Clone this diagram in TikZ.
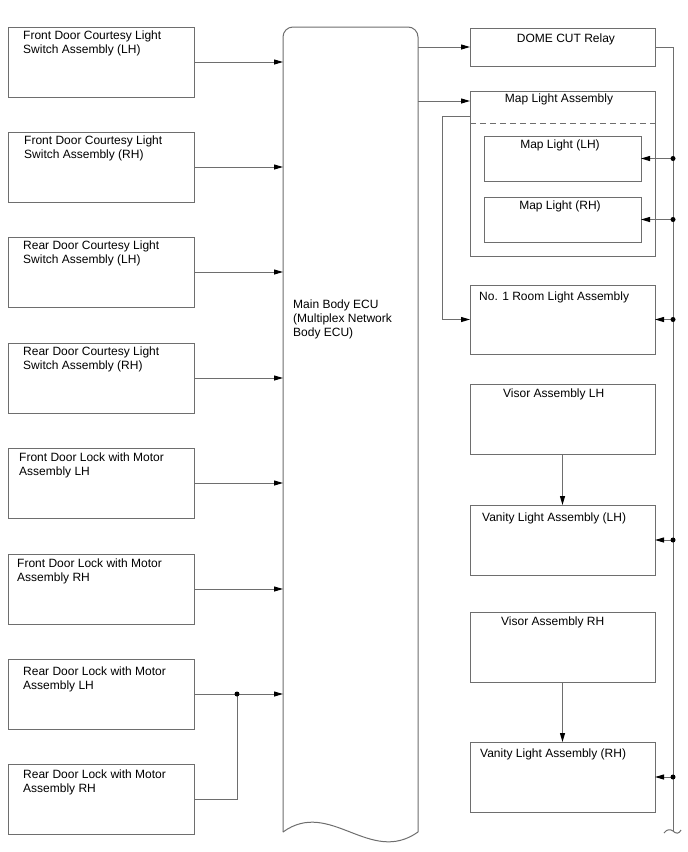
\documentclass[tikz,border=0pt]{standalone}
\usepackage{fontspec}
\setmainfont{Liberation Sans}
\usetikzlibrary{arrows.meta}
\definecolor{lgray}{RGB}{110,110,110}
\tikzset{
  box/.style={draw=lgray, line width=1pt, rectangle, inner sep=0pt, outer sep=0pt, anchor=north west},
  lbl/.style={inner sep=0pt, font=\fontsize{12}{14}\selectfont, align=left, text=black},
  conn/.style={draw=lgray, line width=1pt, -{Triangle[length=9pt,width=5pt,color=black]}},
  wire/.style={draw=lgray, line width=1pt},
  dot/.style={circle, fill=black, inner sep=0pt, minimum size=5pt},
}
\begin{document}
\begin{tikzpicture}[x=1pt,y=-1pt]
\useasboundingbox (0,0) rectangle (688,852);
\fill[white] (0,0) rectangle (688,852);

% ---- left boxes
\node[box, minimum width=186, minimum height=70] (b1) at (8,27) {};
\node[box, minimum width=186, minimum height=70] (b2) at (8,132) {};
\node[box, minimum width=186, minimum height=70] (b3) at (8,237) {};
\node[box, minimum width=186, minimum height=70] (b4) at (8,343) {};
\node[box, minimum width=186, minimum height=70] (b5) at (8,448) {};
\node[box, minimum width=186, minimum height=70] (b6) at (8,554) {};
\node[box, minimum width=186, minimum height=70] (b7) at (8,659) {};
\node[box, minimum width=186, minimum height=70] (b8) at (8,764) {};

% (base anchor = baseline of the last line)
\node[lbl, anchor=base west] (t1) at (23,53.5) {Front Door Courtesy Light\\Switch Assembly (LH)};
\node[lbl, anchor=base west] (t2) at (24,158.5) {Front Door Courtesy Light\\Switch Assembly (RH)};
\node[lbl, anchor=base west] (t3) at (23,263.5) {Rear Door Courtesy Light\\Switch Assembly (LH)};
\node[lbl, anchor=base west] (t4) at (23,369.5) {Rear Door Courtesy Light\\Switch Assembly (RH)};
\node[lbl, anchor=base west] (t5) at (19,475) {Front Door Lock with Motor\\Assembly LH};
\node[lbl, anchor=base west] (t6) at (17,581) {Front Door Lock with Motor\\Assembly RH};
\node[lbl, anchor=base west] (t7) at (23,689) {Rear Door Lock with Motor\\Assembly LH};
\node[lbl, anchor=base west] (t8) at (23,792) {Rear Door Lock with Motor\\Assembly RH};

% ---- ECU
\node[inner sep=0pt, outer sep=0pt, minimum width=135, minimum height=818, anchor=north west] (ecu) at (283,27) {};
\draw[wire, rounded corners=10pt] (283,832) -- (283,27) -- (418,27) -- (418,832);
\draw[wire] (283,832) .. controls (330,798) and (370,866) .. (418,832);
\node[lbl, anchor=base west] (tecu) at (293,336) {Main Body ECU\\(Multiplex Network\\Body ECU)};

% ---- left connectors
\draw[conn] (b1.east) -- (b1.east -| ecu.west);
\draw[conn] (b2.east) -- (b2.east -| ecu.west);
\draw[conn] (b3.east) -- (b3.east -| ecu.west);
\draw[conn] (b4.east) -- (b4.east -| ecu.west);
\draw[conn] (b5.east) -- (b5.east -| ecu.west);
\draw[conn] (b6.east) -- (b6.east -| ecu.west);
\draw[conn] (b7.east) -- (b7.east -| ecu.west);
\coordinate (j) at (237,694);
\draw[wire] (b8.east) -| (j);
\node[dot] (jd) at (j) {};

% ---- right boxes
\node[box, minimum width=185, minimum height=38] (dc) at (470,28) {};
\node[box, minimum width=185, minimum height=165] (ma) at (470,91) {};
\draw[draw=lgray, line width=1pt, dash pattern=on 6pt off 4pt] (470,123) -- (655,123);
\node[box, minimum width=157, minimum height=45] (ml) at (484,136) {};
\node[box, minimum width=157, minimum height=45] (mr) at (484,197) {};
\node[box, minimum width=185, minimum height=69] (rl) at (470,285) {};
\node[box, minimum width=185, minimum height=70] (vl) at (470,384) {};
\node[box, minimum width=185, minimum height=70] (yl) at (470,505) {};
\node[box, minimum width=185, minimum height=70] (vr) at (470,612) {};
\node[box, minimum width=185, minimum height=70] (yr) at (470,742) {};

\node[lbl, anchor=base] (tdc) at (566,42) {DOME CUT Relay};
\node[lbl, anchor=base] (tma) at (559,102.5) {Map Light Assembly};
\node[lbl, anchor=base] (tml) at (560,148) {Map Light (LH)};
\node[lbl, anchor=base] (tmr) at (560,209) {Map Light (RH)};
\node[lbl, anchor=base west] (trl) at (479,300) {No. 1 Room Light Assembly};
\node[lbl, anchor=base west] (tvl) at (503,397.5) {Visor Assembly LH};
\node[lbl, anchor=base west] (tyl) at (482,521.5) {Vanity Light Assembly (LH)};
\node[lbl, anchor=base west] (tvr) at (501,625.5) {Visor Assembly RH};
\node[lbl, anchor=base west] (tyr) at (480,757.5) {Vanity Light Assembly (RH)};

% ---- ECU to right
\draw[conn] (ecu.east |- dc.west) -- (dc.west);
\coordinate (mapin) at (470,101);
\draw[conn] (ecu.east |- mapin) -- (mapin);
\coordinate (mapout) at (470,116);
\draw[conn] (mapout) -- (442,116) |- (rl.west);

% ---- visor to vanity
\draw[conn] (vl.south) -- (yl.north);
\draw[conn] (vr.south) -- (yr.north);

% ---- right bus
\coordinate (bustop) at (673,47);
\coordinate (busend) at (673,831);
\draw[wire] (dc.east) -- (bustop) -- (busend);
\draw[wire] (664,833) .. controls (667,829) and (670,829) .. (673,831) .. controls (676,834) and (679,834) .. (681,830);

\coordinate (p1) at (ml.east -| bustop);
\coordinate (p2) at (mr.east -| bustop);
\coordinate (p3) at (rl.east -| bustop);
\coordinate (p4) at (yl.east -| bustop);
\coordinate (p5) at (yr.east -| bustop);
\draw[conn] (p1) -- (ml.east);
\draw[conn] (p2) -- (mr.east);
\draw[conn] (p3) -- (rl.east);
\draw[conn] (p4) -- (yl.east);
\draw[conn] (p5) -- (yr.east);
\node[dot] (d1) at (p1) {};
\node[dot] (d2) at (p2) {};
\node[dot] (d3) at (p3) {};
\node[dot] (d4) at (p4) {};
\node[dot] (d5) at (p5) {};
\end{tikzpicture}
\end{document}
